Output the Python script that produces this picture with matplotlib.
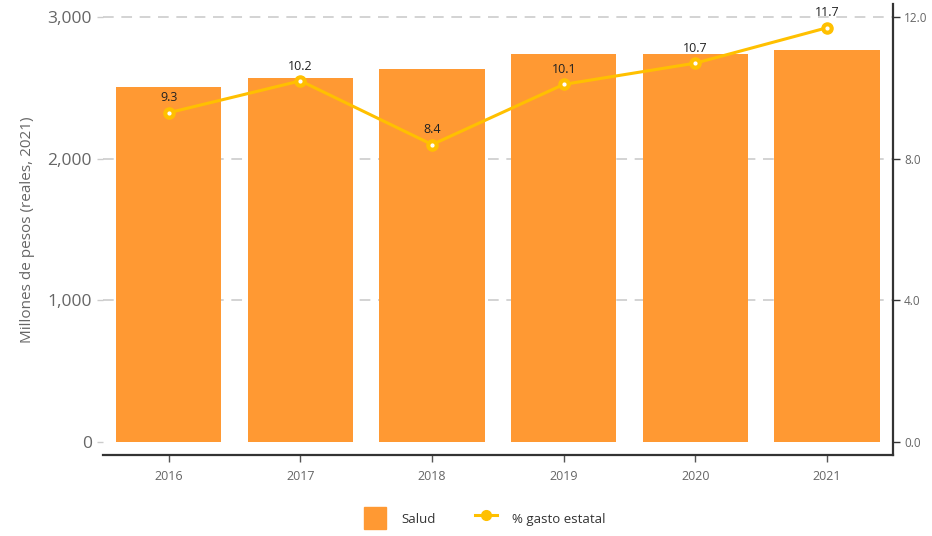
import matplotlib
matplotlib.use("Agg")
import matplotlib.pyplot as plt
from matplotlib.lines import Line2D
from matplotlib.patches import Patch
from matplotlib.ticker import FuncFormatter

years = ["2016", "2017", "2018", "2019", "2020", "2021"]
salud = [2506, 2569, 2633, 2739, 2739, 2767]
pct_gasto = [9.3, 10.2, 8.4, 10.1, 10.7, 11.7]

bar_color = "#FF9933"
line_color = "#FFC000"
text_gray = "#666666"
spine_color = "#333333"

plt.rcParams["font.family"] = ["Open Sans", "DejaVu Sans"]

fig = plt.figure(figsize=(9.32, 5.36), dpi=100)
ax = fig.add_axes([0.1105, 0.151, 0.8475, 0.8415])
ax2 = ax.twinx()

x = list(range(len(years)))
ax.bar(x, salud, width=0.8, color=bar_color, zorder=2)
ax.set_xlim(-0.5, len(years) - 0.5)
ax.set_ylim(-92, 3092)
ax.set_yticks([0, 1000, 2000, 3000])
ax.yaxis.set_major_formatter(FuncFormatter(lambda v, p: f"{int(v):,}"))
for yv in [1000, 2000, 3000]:
    ax.axhline(yv, color="#C8C8C8", lw=1.1, ls=(0, (7, 5)), zorder=1)

ax.set_xticks(x)
ax.set_xticklabels(years)
ax.tick_params(axis="x", colors=text_gray, labelsize=9, length=5, width=1, pad=6,
               color="#555555")
ax.tick_params(axis="y", colors=text_gray, labelsize=12.5, length=4, width=1,
               color="#CCCCCC", pad=4)
for s in ["top", "left", "right"]:
    ax.spines[s].set_visible(False)
ax.spines["bottom"].set_color(spine_color)
ax.spines["bottom"].set_linewidth(1.6)
ax.set_ylabel("Millones de pesos (reales, 2021)", color=text_gray, fontsize=11, labelpad=9)

ax2.plot(x, pct_gasto, color=line_color, lw=2.2, marker="o", markersize=8,
         markerfacecolor=line_color, markeredgecolor=line_color, zorder=4)
ax2.plot(x, pct_gasto, ls="none", marker="o", markersize=2, color="white", zorder=5)
for xi, v in zip(x, pct_gasto):
    ax2.annotate(f"{v:.1f}", (xi, v), xytext=(0, 6), textcoords="offset points",
                 ha="center", va="bottom", fontsize=9, color="#222222")
ax2.set_ylim(-0.37, 12.37)
ax2.set_yticks([0, 4, 8, 12])
ax2.yaxis.set_major_formatter(FuncFormatter(lambda v, p: f"{v:.1f}"))
ax2.tick_params(axis="y", colors=text_gray, labelsize=8.5, length=5, width=1,
                color=spine_color, pad=3)
for s in ["top", "left", "bottom"]:
    ax2.spines[s].set_visible(False)
ax2.spines["right"].set_color(spine_color)
ax2.spines["right"].set_linewidth(1.6)

handles = [
    Patch(facecolor=bar_color, edgecolor=bar_color),
    Line2D([0], [0], color=line_color, lw=2.2, marker="o", markersize=7,
           markerfacecolor=line_color),
]
fig.legend(handles, ["Salud", "% gasto estatal"], loc="lower center",
           bbox_to_anchor=(0.52, -0.01), ncol=2, frameon=False, fontsize=9.5,
           handlelength=1.7, handleheight=2.2, columnspacing=3, handletextpad=1.1,
           labelcolor="#333333")

fig.savefig("out.png", dpi=100)
